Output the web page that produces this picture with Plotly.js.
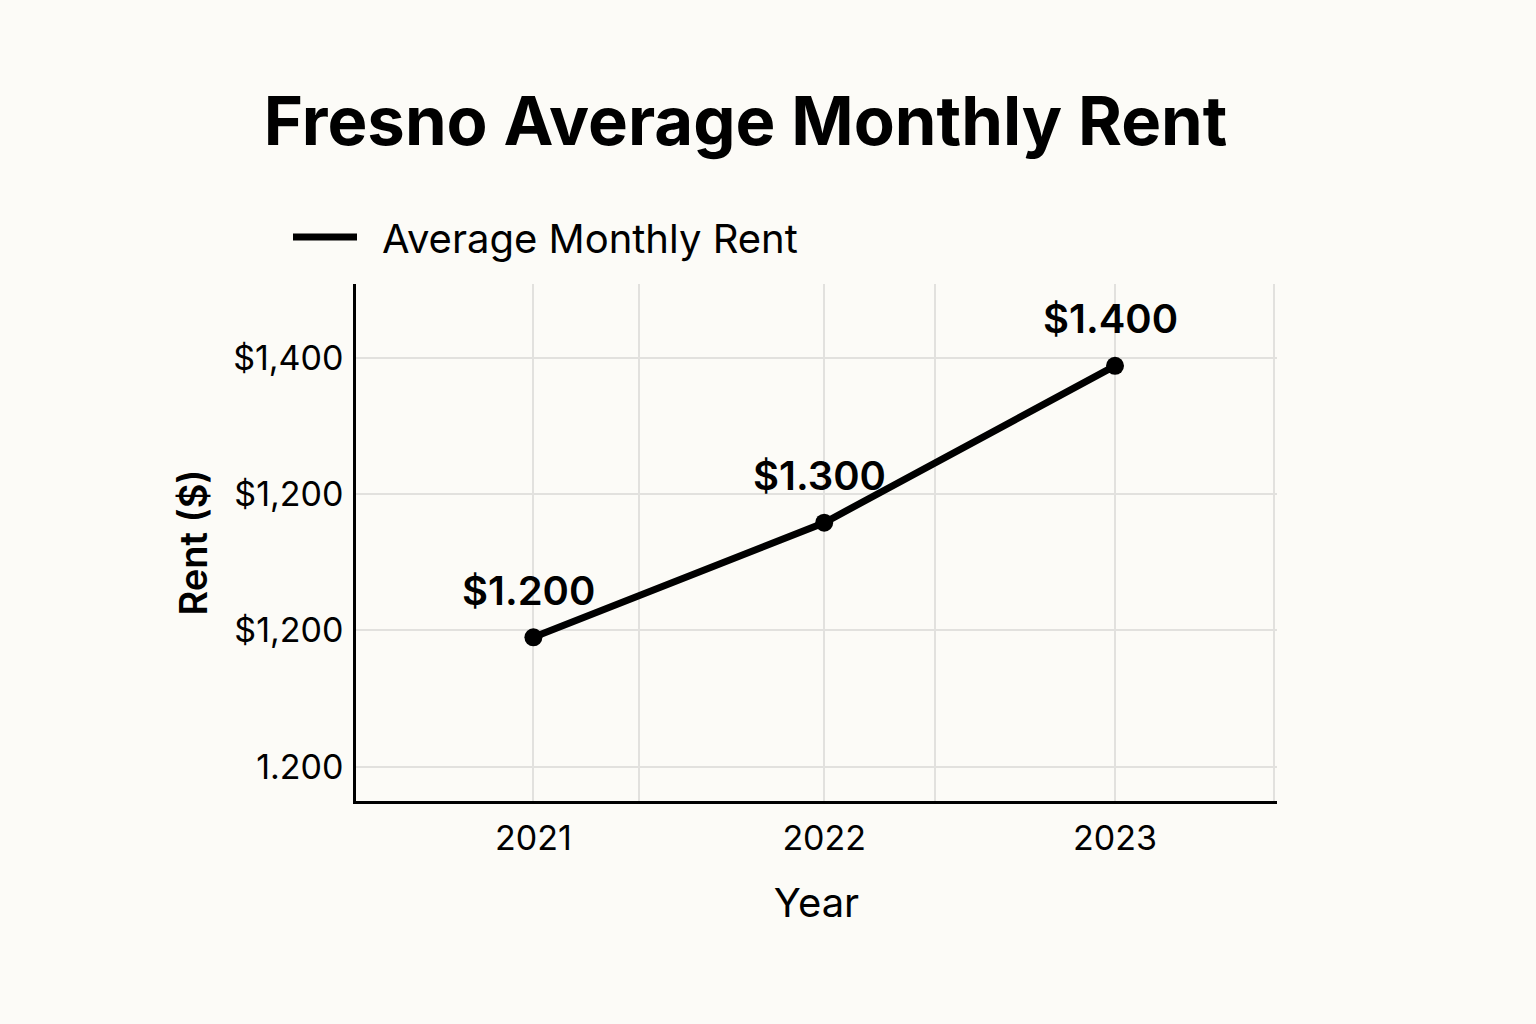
<!DOCTYPE html>
<html>
<head>
<meta charset="utf-8">
<script src="https://cdn.plot.ly/plotly-3.0.1.min.js"></script>
<style>
  html, body { margin: 0; padding: 0; background: #fcfbf7; }
  #chart { width: 1536px; height: 1024px; }
</style>
</head>
<body>
<div id="chart"></div>
<script>
// Data
const years = [2021, 2022, 2023];
const rent = [1195, 1279, 1394];
const pointLabels = ['$1.200', '$1.300', '$1.400'];
const seriesName = 'Average Monthly Rent';

// Axis ticks (as printed on the reference)
const yTickVals = [1100, 1200, 1300, 1400];
const yTickText = ['1.200', '$1,200', '$1,200', '$1,400'];
const xTickVals = [2021, 2021.363, 2022, 2022.381, 2023, 2023.545];
const xTickText = ['2021', '', '2022', '', '2023', ''];

const FONT = 'Inter, "Noto Sans", Roboto, sans-serif';

const lineTrace = {
  x: years,
  y: rent,
  name: '\u2002' + seriesName,
  type: 'scatter',
  mode: 'lines',
  line: { color: '#000000', width: 7 },
  showlegend: true,
  hoverinfo: 'x+y'
};

const markerTrace = {
  x: years,
  y: rent,
  name: seriesName,
  type: 'scatter',
  mode: 'markers',
  marker: { color: '#000000', size: 18 },
  showlegend: false,
  hoverinfo: 'x+y'
};

const annotations = years.map((yr, i) => ({
  x: yr,
  y: rent[i],
  xref: 'x',
  yref: 'y',
  text: pointLabels[i],
  showarrow: false,
  xshift: -5,
  yshift: 47,
  font: { family: FONT, size: 40, color: '#000000', weight: 600 }
}));

const layout = {
  width: 1536,
  height: 1024,
  paper_bgcolor: '#fcfbf7',
  plot_bgcolor: '#fcfbf7',
  margin: { l: 356, r: 259, t: 284, b: 223 },
  font: { family: FONT, color: '#000000' },
  title: {
    text: 'Fresno Average Monthly Rent',
    font: { family: FONT, size: 67, color: '#000000', weight: 700 },
    xref: 'container',
    yref: 'container',
    x: 0.4854,
    xanchor: 'center',
    y: 1 - 122 / 1024,
    yanchor: 'middle'
  },
  showlegend: true,
  legend: {
    xref: 'container',
    yref: 'container',
    x: 288 / 1536,
    xanchor: 'left',
    y: 1 - 237 / 1024,
    yanchor: 'middle',
    orientation: 'h',
    bgcolor: 'rgba(0,0,0,0)',
    font: { family: FONT, size: 40, color: '#000000' },
    itemwidth: 64
  },
  xaxis: {
    range: [2020.39, 2023.557],
    tickmode: 'array',
    tickvals: xTickVals,
    ticktext: xTickText,
    ticks: '',
    ticklabelstandoff: 5,
    tickfont: { family: FONT, size: 34, color: '#000000' },
    showgrid: true,
    gridcolor: '#e2e1de',
    gridwidth: 2,
    zeroline: false,
    showline: true,
    linecolor: '#000000',
    linewidth: 2.5,
    title: {
      text: 'Year',
      font: { family: FONT, size: 40, color: '#000000' },
      standoff: 33
    }
  },
  yaxis: {
    range: [1075, 1454],
    tickmode: 'array',
    tickvals: yTickVals,
    ticktext: yTickText,
    ticks: '',
    ticklabelstandoff: 3,
    tickfont: { family: FONT, size: 34, color: '#000000' },
    showgrid: true,
    gridcolor: '#e2e1de',
    gridwidth: 2,
    zeroline: false,
    showline: true,
    linecolor: '#000000',
    linewidth: 2.5,
    title: {
      text: 'Rent ($)',
      font: { family: FONT, size: 38, color: '#000000', weight: 600 },
      standoff: 14
    }
  },
  annotations: annotations
};

Plotly.newPlot('chart', [lineTrace, markerTrace], layout, { displayModeBar: false });
</script>
</body>
</html>
